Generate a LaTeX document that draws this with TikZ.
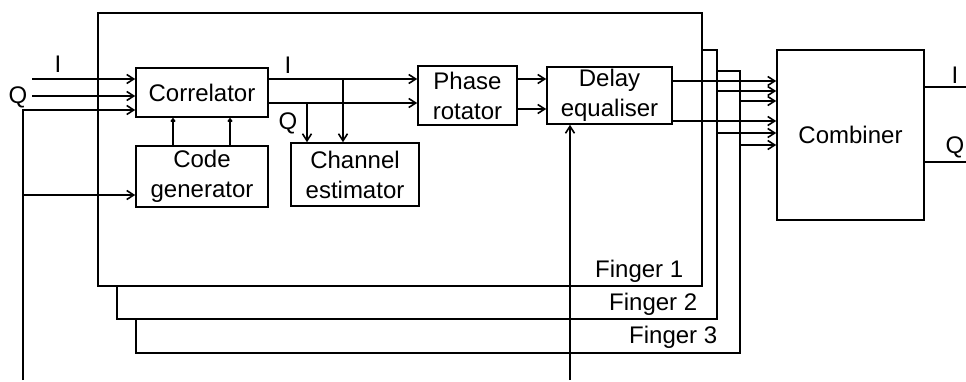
\documentclass[tikz,border=0pt]{standalone}
\usepackage{fontspec}
\setmainfont{Liberation Sans}
\usetikzlibrary{arrows.meta}

\begin{document}
\begin{tikzpicture}[x=1pt,y=-1pt,line width=1.6pt,
  font=\fontsize{24}{30}\selectfont,
  >={Straight Barb[length=7pt,width=9pt]},
  upar/.style={-{Straight Barb[length=2.5pt,width=4pt]}},
  blk/.style={draw,align=center,inner sep=0pt},
  lbl/.style={inner sep=0pt,anchor=base},
  fing/.style={inner sep=0pt,anchor=base east}]
\useasboundingbox (0,0) rectangle (966,381);
\draw[fill=white] (136,71) rectangle (740,353);
\draw[fill=white] (117,50) rectangle (717,319);
\draw[fill=white] (98,13) rectangle (702,286);
\node[fing] (fing1) at (684,277) {Finger 1};
\node[fing] (fing2) at (698,310) {Finger 2};
\node[fing] (fing3) at (718,343) {Finger 3};
\node[blk,minimum width=132pt,minimum height=49pt] (corr) at (202,92.5) {Correlator};
\node[blk,minimum width=132pt,minimum height=61pt] (codegen) at (202,176.5) {Code\\generator};
\node[blk,minimum width=128pt,minimum height=63pt] (chanest) at (355,174.5) {Channel\\estimator};
\node[blk,minimum width=99pt,minimum height=59pt] (phrot) at (467.5,95.5) {Phase\\rotator};
\node[blk,minimum width=125pt,minimum height=57pt] (delayeq) at (609.5,95.5) {Delay\\equaliser};
\node[blk,minimum width=147pt,minimum height=170pt] (comb) at (850.5,135) {Combiner};
\node[lbl] (iinlbl) at (58,72) {I};
\node[lbl] (qinlbl) at (18,103) {Q};
\node[lbl] (ioutlbl) at (288,73) {I};
\node[lbl] (qoutlbl) at (288,129) {Q};
\node[lbl] (icomblbl) at (955,83) {I};
\node[lbl] (qcomblbl) at (955,153) {Q};
\coordinate (iin) at (32,79);
\coordinate (qin) at (32,96);
\coordinate (clk) at (23,380);
\coordinate (ctl) at (570,380);
\coordinate (cgin) at ([yshift=-18.5pt]codegen.west);
\draw[->] (iin) -- (iin -| corr.west);
\draw[->] (qin) -- (qin -| corr.west);
\draw[->] (clk) |- ([yshift=-17.5pt]corr.west);
\draw[->] (clk |- cgin) -- (cgin);
\foreach \dx in {-29,28}
  \draw[upar] ([xshift=\dx pt]codegen.north) -- ([xshift=\dx pt]corr.south);
\coordinate (iout) at ([yshift=13.5pt]corr.east);
\coordinate (qout) at ([yshift=-10.5pt]corr.east);
\coordinate (itap) at ([xshift=-12pt]chanest.north);
\coordinate (qtap) at ([xshift=-48pt]chanest.north);
\draw[->] (iout) -- (iout -| phrot.west);
\draw[->] (qout) -- (qout -| phrot.west);
\draw[->] (itap |- iout) -- (itap);
\draw[->] (qtap |- qout) -- (qtap);
\coordinate (pra) at ([yshift=16.5pt]phrot.east);
\coordinate (prb) at ([yshift=-13.5pt]phrot.east);
\draw[->] (pra) -- (pra -| delayeq.west);
\draw[->] (prb) -- (prb -| delayeq.west);
\draw[->] (ctl) -- (ctl |- delayeq.south);
\coordinate (dea) at ([yshift=14.5pt]delayeq.east);
\coordinate (deb) at ([yshift=-25.5pt]delayeq.east);
\coordinate (f2a) at (717,91);
\coordinate (f2b) at (717,133);
\coordinate (f3a) at (740,101);
\coordinate (f3b) at (740,145);
\foreach \c in {dea,deb,f2a,f2b,f3a,f3b}
  \draw[->] (\c) -- (\c -| comb.west);
\coordinate (combi) at ([yshift=48pt]comb.east);
\coordinate (combq) at ([yshift=-27pt]comb.east);
\coordinate (iend) at (966,87);
\coordinate (qend) at (966,162);
\draw (combi) -- (iend);
\draw (combq) -- (qend);
\end{tikzpicture}
\end{document}
